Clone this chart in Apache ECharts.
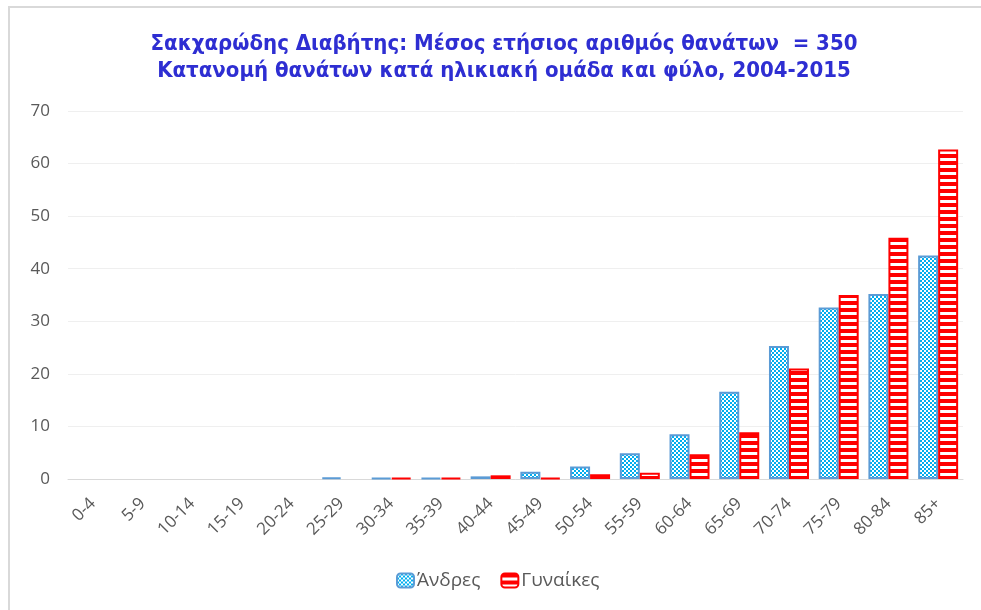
<!DOCTYPE html>
<html>
<head>
<meta charset="utf-8">
<script src="https://cdn.jsdelivr.net/npm/echarts@6/dist/echarts.min.js"></script>
<style>
html,body{margin:0;padding:0;background:#fff;}
#chart{width:981px;height:610px;}
</style>
</head>
<body>
<div id="chart"></div>
<script>
const categories = ['0-4','5-9','10-14','15-19','20-24','25-29','30-34','35-39','40-44','45-49','50-54','55-59','60-64','65-69','70-74','75-79','80-84','85+'];
const menValues = [0,0,0,0,0,0.3,0.2,0.2,0.5,1.4,2.4,4.9,8.5,16.6,25.3,32.6,35.2,42.5];
const womenValues = [0,0,0,0,0,0,0.2,0.2,0.7,0.2,0.9,1.2,4.7,8.9,21.0,35.0,45.9,62.7];
const seriesNames = ['Άνδρες','Γυναίκες'];
const titleLines = ['Σακχαρώδης Διαβήτης: Μέσος ετήσιος αριθμός θανάτων  = 350','Κατανομή θανάτων κατά ηλικιακή ομάδα και φύλο, 2004-2015'];

// zero values draw no bar (as in the original chart)
const hideZero = arr => arr.map(v => (v === 0 ? '-' : v));

function checker(){
  const c = document.createElement('canvas');
  c.width = 4; c.height = 4;
  const g = c.getContext('2d');
  g.fillStyle = '#ffffff'; g.fillRect(0,0,4,4);
  g.fillStyle = '#00AEEF';
  g.fillRect(0,0,2,2); g.fillRect(2,2,2,2);
  return c;
}
function stripes(){
  const c = document.createElement('canvas');
  c.width = 4; c.height = 7;
  const g = c.getContext('2d');
  g.fillStyle = '#FF0000'; g.fillRect(0,0,4,7);
  g.fillStyle = '#ffffff'; g.fillRect(0,4,4,3);
  return c;
}
const menFill = {image: checker(), repeat: 'repeat'};
const womenFill = {image: stripes(), repeat: 'repeat'};

const chart = echarts.init(document.getElementById('chart'), null, {renderer:'canvas'});
const font = 'Open Sans';
chart.setOption({
  animation: false,
  backgroundColor: '#ffffff',
  graphic: [{
    type: 'rect', silent: true,
    shape: {x: 9, y: 7, width: 1200, height: 800},
    style: {fill: 'none', stroke: '#D9D9D9', lineWidth: 2}
  }],
  title: {
    text: titleLines.join('\n'),
    left: 499, top: 26, textAlign: 'center',
    textStyle: {fontFamily: 'DejaVu Sans Condensed', fontWeight: 'bold', fontSize: 22, color: '#2E2ED2', lineHeight: 27}
  },
  legend: {
    data: seriesNames,
    top: 566, left: 391,
    itemWidth: 17, itemHeight: 14, itemGap: 20,
    textStyle: {fontFamily: font, fontSize: 19, color: '#595959', padding: [0,0,0,-2]}
  },
  grid: {left: 68, right: 18, top: 111, bottom: 131, containLabel: false},
  xAxis: {
    type: 'category', data: categories,
    axisLine: {lineStyle: {color: '#D9D9D9', width: 1}},
    axisTick: {show: false},
    axisLabel: {rotate: 45, interval: 0, margin: 22, fontFamily: font, fontSize: 17, color: '#595959'}
  },
  yAxis: {
    type: 'value', min: 0, max: 70, interval: 10,
    axisLine: {show: false}, axisTick: {show: false},
    splitLine: {lineStyle: {color: '#EFEFEF', width: 1}},
    axisLabel: {margin: 18, fontFamily: font, fontSize: 17, color: '#595959'}
  },
  series: [
    {name: seriesNames[0], type: 'bar', data: hideZero(menValues), barWidth: 20, barGap: '0%',
     itemStyle: {color: menFill, borderColor: '#5B9BD5', borderWidth: 2}},
    {name: seriesNames[1], type: 'bar', data: hideZero(womenValues), barWidth: 20, barGap: '0%',
     itemStyle: {color: womenFill, borderColor: '#FF0000', borderWidth: 2}}
  ]
});
</script>
</body>
</html>
